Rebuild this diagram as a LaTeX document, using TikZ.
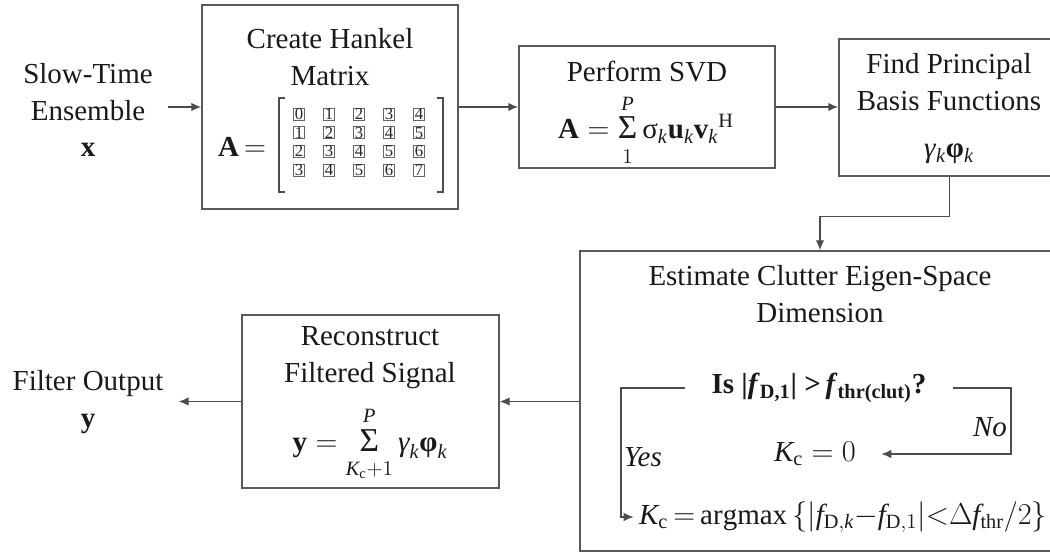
\documentclass[tikz,border=0pt]{standalone}
\usepackage{amsmath}
\usepackage{fontspec}
\setmainfont{Liberation Serif}
\usepackage{tikz}
\usetikzlibrary{arrows.meta}
\newcommand{\bigsigma}{\mathop{\text{\fontsize{19}{19}\selectfont Σ}}\limits}
\newcommand{\lowlim}[1]{\rule{0pt}{11pt}#1}
\newcommand{\uplim}[1]{#1\rule[-2pt]{0pt}{2pt}}

\begin{document}
\begin{tikzpicture}[x=1cm,y=1cm,>={Latex[length=2mm,width=1.7mm]},
  blk/.style={draw=black!65,line width=0.8pt,inner sep=0pt},
  lbl/.style={align=center,text=black!90,font=\fontsize{16.5}{21}\selectfont},
  cell/.style={draw=black!60,line width=0.5pt,minimum width=0.22cm,minimum height=0.24cm,inner sep=0pt,text=black!85,font=\fontsize{9.5}{9.5}\selectfont},
  wire/.style={draw=black!70,line width=0.8pt}]
\useasboundingbox (0,0) rectangle (21,11.06);
% blocks
\node[blk,minimum width=5.12cm,minimum height=4.08cm] (hankel) at (6.60,8.92) {};
\node[blk,minimum width=5.12cm,minimum height=2.44cm] (svd) at (12.94,8.92) {};
\node[blk,minimum width=4.42cm,minimum height=2.74cm] (basis) at (18.99,8.91) {};
\node[blk,minimum width=9.60cm,minimum height=6.00cm] (clutter) at (16.40,3.04) {};
\node[blk,minimum width=5.14cm,minimum height=3.46cm] (recon) at (7.41,3.03) {};
% input and output
\node[lbl,inner xsep=0.3cm] (input) at (1.76,8.86) {Slow-Time\\Ensemble\\$\mathbf{x}$};
\node[lbl,inner xsep=0.3cm] (output) at (1.76,3.02) {Filter Output\\$\mathbf{y}$};
% Hankel matrix
\node[lbl] (hktitle) at (6.60,9.92) {Create Hankel\\Matrix};
\node[lbl] (amat) at (4.84,8.12) {$\mathbf{A}\mkern-2mu=$};
\foreach \r in {0,...,3}
  \foreach \c in {0,...,4} {
    \pgfmathtruncatemacro{\v}{\r+\c}
    \node[cell] (c\r\c) at (5.98+0.6*\c,8.78-0.373*\r) {\v};
  }
\draw[wire,line width=0.6pt] (5.70,9.10) -| (5.58,7.22) -- (5.70,7.22);
\draw[wire,line width=0.6pt] (8.74,9.10) -| (8.86,7.22) -- (8.74,7.22);
% SVD
\node[lbl] (svdtitle) at (12.94,9.62) {Perform SVD};
\node[lbl] (svdeq) at (12.92,8.46) {$\mathbf{A} = \bigsigma_{\lowlim{1}}^{\uplim{\mathit{P}}} \text{σ}_{\mathit{k}}\mathbf{u}_{\mathit{k}}\mathbf{v}_{\mathit{k}}{}^{\mathrm{H}}$};
% basis functions
\node[lbl] (bftitle) at (18.98,9.41) {Find Principal\\Basis Functions};
\node[lbl] (bfeq) at (18.98,7.98) {\textit{γ}$_{\mathit{k}}$\textbf{φ}$_{\mathit{k}}$};
% clutter dimension
\node[lbl] (ctitle) at (16.40,5.18) {Estimate Clutter Eigen-Space\\Dimension};
\node[lbl,inner xsep=0.52cm] (qst) at (16.38,3.30) {\textbf{Is |\textit{f}\textsubscript{D,1}| >\,\textit{f}\textsubscript{thr(clut)}?}};
\coordinate (yesbend) at (12.42,3.30);
\coordinate (nobend) at (20.22,3.30);
\node[lbl,inner xsep=0.5cm] (kzero) at (16.30,1.98) {$\mathit{K}_{\mathrm{c}} = 0$};
\node[lbl,inner xsep=0.1cm] (kmax) at (16.86,0.72) {$\thickmuskip=3mu\medmuskip=0mu\mathit{K}_{\mathrm{c}} = \mathrm{argmax}\,\{|\mathit{f}_{\mathrm{D},\mathit{k}} - \mathit{f}_{\mathrm{D},1}|\mathord{<}\Delta \mathit{f}_{\mathrm{thr}}/2\}$};
\node[lbl,font=\fontsize{16.5}{21}\selectfont\itshape] (yes) at (12.86,1.92) {Yes};
\node[lbl,font=\fontsize{16.5}{21}\selectfont\itshape] (no) at (19.80,2.52) {No};
\draw[wire,->] (qst.west) -- (yesbend) |- (kmax);
\draw[wire,->] (qst.east) -- (nobend) |- (kzero);
% reconstruction
\node[lbl] (rctitle) at (7.40,3.90) {Reconstruct\\Filtered Signal};
\node[lbl] (rceq) at (7.40,2.18) {$\mathbf{y} = \bigsigma_{\lowlim{\mathit{K}_{\mathrm{c}}+1}}^{\uplim{\mathit{P}}} \text{\itshape γ}_{\mathit{k}}\text{\bfseries φ}_{\mathit{k}}$};
% connections
\draw[wire,->] (input.east |- hankel.west) -- (hankel.west);
\draw[wire,->] (hankel) -- (svd);
\draw[wire,->] (svd.east) -- (svd.east -| basis.west);
\draw[wire,->] (basis.south) -- ++(0,-0.8) -| (clutter.north);
\draw[wire,->] (clutter.west |- recon.west) -- (recon.east);
\draw[wire,->] (recon.west) -- (recon.west -| output.east);
\end{tikzpicture}
\end{document}
